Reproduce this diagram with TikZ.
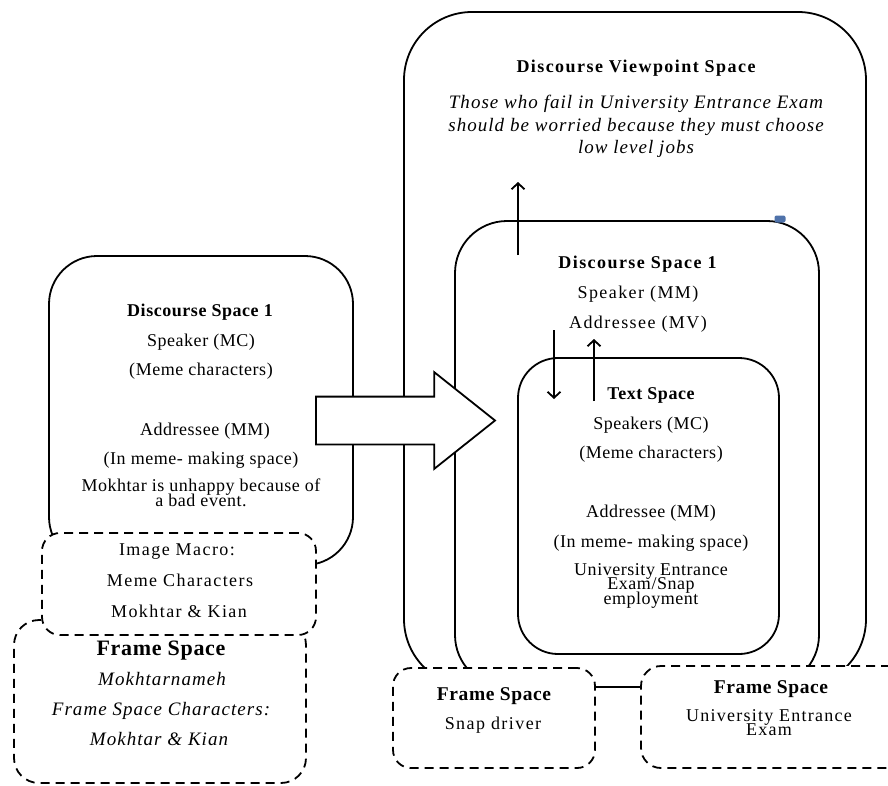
\documentclass[tikz,border=0pt]{standalone}
\usepackage{fontspec}
\setmainfont[LetterSpace=3]{Liberation Serif}
\usepackage{tikz}
\usetikzlibrary{shapes.arrows, arrows.meta, positioning}
\definecolor{marca_azul}{RGB}{79,114,170}
\tikzset{
    caja/.style={rectangle, draw, fill=white, line width=1.8pt, inner sep=0pt},
    caja_marco/.style={caja, dash pattern=on 9pt off 6pt},
    texto/.style={anchor=base, inner sep=0pt, align=center, font=\fontsize{18}{14.5}\selectfont},
    texto_ancho/.style={texto, font=\fontsize{18}{14.5}\selectfont\addfontfeature{LetterSpace=8}},
    titulo/.style={texto, font=\fontsize{18}{21}\selectfont\bfseries},
    titulo_ancho/.style={texto, font=\fontsize{18}{21}\selectfont\bfseries\addfontfeature{LetterSpace=8}},
    cursiva/.style={texto, font=\fontsize{19}{21}\selectfont\itshape\addfontfeature{LetterSpace=5.5}},
    flecha/.style={line width=1.8pt, -{Straight Barb[length=6pt, width=13pt, line width=1.8pt]}}
}

\begin{document}
\lineskiplimit=-20pt
\begin{tikzpicture}[x=1pt, y=-1pt,
            % Flecha grande entre los dos espacios
            flecha_bloque/.style={
                single arrow, draw, fill=white, line width=1.8pt,
                inner xsep=0pt, inner ysep=23pt,
                single arrow head extend=24.5pt, single arrow tip angle=77,
                minimum height=179pt
            }
        ]
            \useasboundingbox (0,0) rectangle (888,785);
            \clip (0,0) rectangle (888,785);

            % 1. Espacios de la derecha (de fuera hacia dentro)
            \node[caja, minimum width=462pt, minimum height=675pt, rounded corners=68pt] (dvs) at (635,349.5) {};
            \node[caja, minimum width=364pt, minimum height=466pt, rounded corners=52pt] (dsr) at (637,454) {};
            \node[caja, minimum width=261pt, minimum height=296pt, rounded corners=40pt] (txt) at (648.5,506) {};
            \node[fill=marca_azul, rounded corners=2pt, minimum width=11pt, minimum height=7pt, inner sep=0pt] (marca) at (780,219) {};

            % 2. Espacio de la izquierda y sus marcos
            \node[caja, minimum width=304pt, minimum height=309pt, rounded corners=48pt] (dsl) at (201,410.5) {};
            \node[caja_marco, minimum width=292pt, minimum height=163pt, rounded corners=25pt] (frl) at (160,701.5) {};
            \node[caja_marco, minimum width=274pt, minimum height=102pt, rounded corners=18pt] (imc) at (179,584) {};

            % 3. Marcos de abajo a la derecha
            \node[caja_marco, minimum width=202pt, minimum height=100pt, rounded corners=18pt] (frs) at (494,718) {};
            \node[caja_marco, minimum width=269pt, minimum height=102pt, rounded corners=20pt] (fru) at (775.5,717) {};

            % --- CONEXIONES ---
            \node[flecha_bloque] (salto) at (390.5,420.5) {};

            \coordinate (a1_ini) at (518,255);
            \coordinate (a1_fin) at (518,182);
            \coordinate (a2_ini) at (554,330);
            \coordinate (a2_fin) at (554,399);
            \coordinate (a3_ini) at (594,401);
            \coordinate (a3_fin) at (594,339);
            \draw[flecha] (a1_ini) -- (a1_fin);
            \draw[flecha] (a2_ini) -- (a2_fin);
            \draw[flecha] (a3_ini) -- (a3_fin);

            % --- TEXTOS ---
            \node[titulo_ancho] (dvs_t) at (636,72) {Discourse Viewpoint Space};
            \node[cursiva] (dvs_1) at (636,108) {Those who fail in University Entrance Exam};
            \node[cursiva] (dvs_2) at (636,131) {should be worried because they must choose};
            \node[cursiva] (dvs_3) at (636,153) {low level jobs};

            \node[titulo_ancho] (dsr_t) at (637.5,268) {Discourse Space 1};
            \node[texto_ancho] (dsr_1) at (638,298) {Speaker (MM)};
            \node[texto_ancho] (dsr_2) at (638,328) {Addressee (MV)};

            \node[titulo] (txt_t) at (651,399) {Text Space};
            \node[texto] (txt_1) at (651,429) {Speakers (MC)};
            \node[texto] (txt_2) at (651,458) {(Meme characters)};
            \node[texto] (txt_3) at (651,517) {Addressee (MM)};
            \node[texto] (txt_4) at (651,547) {(In meme- making space)};
            \node[texto] (txt_5) at (651,604) {University Entrance\\Exam/Snap\\employment};

            \node[titulo] (dsl_t) at (200,316) {Discourse Space 1};
            \node[texto] (dsl_1) at (201,346) {Speaker (MC)};
            \node[texto] (dsl_2) at (201,375) {(Meme characters)};
            \node[texto] (dsl_3) at (205,435) {Addressee (MM)};
            \node[texto] (dsl_4) at (201,464) {(In meme- making space)};
            \node[texto] (dsl_5) at (201,506) {Mokhtar is unhappy because of\\a bad event.};

            \node[texto_ancho] (imc_1) at (177,555) {Image Macro:};
            \node[texto_ancho] (imc_2) at (180,586) {Meme Characters};
            \node[texto_ancho] (imc_3) at (179,617) {Mokhtar \& Kian};

            \node[titulo, font=\fontsize{22}{24}\selectfont\bfseries] (frl_t) at (161,655) {Frame Space};
            \node[cursiva] (frl_1) at (162,685) {Mokhtarnameh};
            \node[cursiva] (frl_2) at (161,715) {Frame Space Characters:};
            \node[cursiva] (frl_3) at (159,745) {Mokhtar \& Kian};

            \node[titulo, font=\fontsize{19.5}{22}\selectfont\bfseries] (frs_t) at (494,700) {Frame Space};
            \node[texto_ancho] (frs_1) at (493,729) {Snap driver};

            \node[titulo, font=\fontsize{19.5}{22}\selectfont\bfseries] (fru_t) at (771,693) {Frame Space};
            \node[texto_ancho, font=\fontsize{18}{13.5}\selectfont\addfontfeature{LetterSpace=7}] (fru_1) at (769,735) {University Entrance\\Exam};

        \end{tikzpicture}
\end{document}
